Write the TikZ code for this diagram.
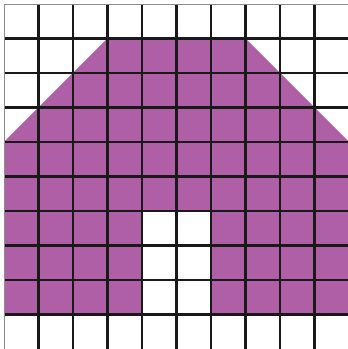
\documentclass[tikz,border=0pt]{standalone}
\usepackage{xcolor}
\usepackage{tikz}

\definecolor{housepurple}{RGB}{174,95,166}

\begin{document}
\begin{tikzpicture}[
            house/.style={fill=housepurple, draw=none},
            gridline/.style={line width=1.7pt, black!90},
            edgeline/.style={line width=0.6pt, black!45}
        ]
            \useasboundingbox (-0.116,0) rectangle (9.942,10.116);

            \fill[house] (0,1) -- (0,6) -- (3,9) -- (7,9) -- (10,6) -- (10,1) -- (6,1) -- (6,4) -- (4,4) -- (4,1) -- cycle;

            \foreach \i in {1,...,9} {
                \draw[gridline] (\i,0) -- (\i,10);
                \draw[gridline] (0,\i) -- (10,\i);
            }
            \draw[edgeline] (0,0) -- (0,10) -- (10,10);
        \end{tikzpicture}
\end{document}
